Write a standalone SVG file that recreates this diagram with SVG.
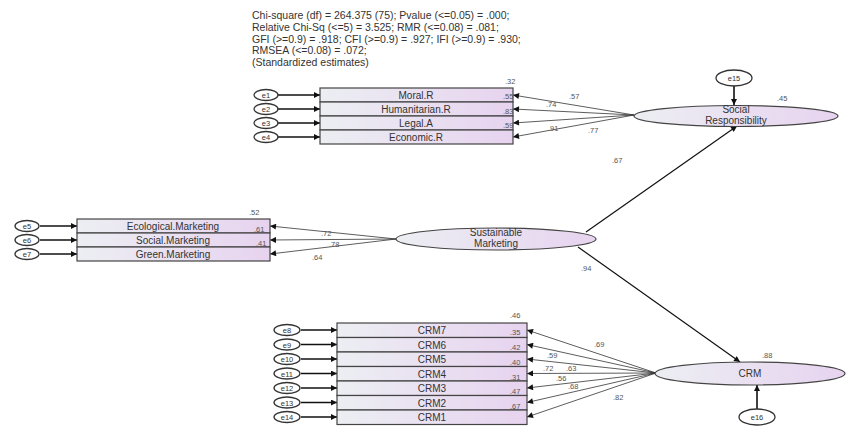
<svg xmlns="http://www.w3.org/2000/svg" width="848" height="428" viewBox="0 0 848 428">
<defs>
<linearGradient id="gb" x1="0" y1="0" x2="1" y2="0">
<stop offset="0" stop-color="#eceef3"/>
<stop offset="1" stop-color="#e7d3ef"/>
</linearGradient>
<marker id="ah" viewBox="0 0 10 10" refX="10" refY="5" markerWidth="9" markerHeight="6" orient="auto" markerUnits="userSpaceOnUse">
<path d="M0,0 L10,5 L0,10 z" fill="#111"/>
</marker>
<style>
.t{font-family:"Liberation Sans",Arial,sans-serif;fill:#333}
.title{font-size:10.5px}
.box{fill:url(#gb);stroke:#444;stroke-width:1.2}
.lat{fill:url(#gb);stroke:#444;stroke-width:1.2}
.err{fill:#fff;stroke:#333;stroke-width:1.3}
.bl{font-size:10px;text-anchor:middle}
.el{font-size:7.5px;text-anchor:middle}
.num{font-size:7.5px;fill:#555}
.ln{stroke:#333;stroke-width:0.8;fill:none}
.ea{stroke:#111;stroke-width:1.6;fill:none}
.pa{stroke:#111;stroke-width:1.2;fill:none}
</style>
</defs>
<rect width="848" height="428" fill="#fff"/>
<g id="title" class="t title">
<text x="252" y="19">Chi-square (df) = 264.375 (75);  Pvalue (&lt;=0.05) = .000;</text>
<text x="252" y="31">Relative Chi-Sq (&lt;=5) = 3.525; RMR (&lt;=0.08) = .081;</text>
<text x="252" y="43">GFI (&gt;=0.9) = .918; CFI (&gt;=0.9) = .927; IFI (&gt;=0.9) = .930;</text>
<text x="252" y="54">RMSEA (&lt;=0.08) = .072;</text>
<text x="252" y="66">(Standardized estimates)</text>
</g>
<g id="connectors">
<!-- top block: error to indicator -->
<line class="ea" x1="278" y1="95" x2="320" y2="95" marker-end="url(#ah)"/>
<line class="ea" x1="278" y1="109" x2="320" y2="109" marker-end="url(#ah)"/>
<line class="ea" x1="278" y1="123" x2="320" y2="123" marker-end="url(#ah)"/>
<line class="ea" x1="278" y1="137" x2="320" y2="137" marker-end="url(#ah)"/>
<!-- top loadings -->
<line class="ln" x1="634" y1="115" x2="513" y2="95" marker-end="url(#ah)"/>
<line class="ln" x1="634" y1="115" x2="513" y2="109" marker-end="url(#ah)"/>
<line class="ln" x1="634" y1="115" x2="513" y2="123" marker-end="url(#ah)"/>
<line class="ln" x1="634" y1="115" x2="513" y2="137" marker-end="url(#ah)"/>
<!-- middle block -->
<line class="ea" x1="40" y1="226" x2="77" y2="226" marker-end="url(#ah)"/>
<line class="ea" x1="40" y1="240" x2="77" y2="240" marker-end="url(#ah)"/>
<line class="ea" x1="40" y1="254" x2="77" y2="254" marker-end="url(#ah)"/>
<line class="ln" x1="396" y1="239" x2="270" y2="226" marker-end="url(#ah)"/>
<line class="ln" x1="396" y1="239" x2="270" y2="240" marker-end="url(#ah)"/>
<line class="ln" x1="396" y1="239" x2="270" y2="254" marker-end="url(#ah)"/>
<!-- CRM block -->
<line class="ea" x1="301" y1="330" x2="337" y2="330" marker-end="url(#ah)"/>
<line class="ea" x1="301" y1="344.5" x2="337" y2="344.5" marker-end="url(#ah)"/>
<line class="ea" x1="301" y1="359" x2="337" y2="359" marker-end="url(#ah)"/>
<line class="ea" x1="301" y1="373.5" x2="337" y2="373.5" marker-end="url(#ah)"/>
<line class="ea" x1="301" y1="388" x2="337" y2="388" marker-end="url(#ah)"/>
<line class="ea" x1="301" y1="402.5" x2="337" y2="402.5" marker-end="url(#ah)"/>
<line class="ea" x1="301" y1="417" x2="337" y2="417" marker-end="url(#ah)"/>
<line class="ln" x1="656" y1="373" x2="527" y2="330" marker-end="url(#ah)"/>
<line class="ln" x1="656" y1="373" x2="527" y2="344.5" marker-end="url(#ah)"/>
<line class="ln" x1="656" y1="373" x2="527" y2="359" marker-end="url(#ah)"/>
<line class="ln" x1="656" y1="373" x2="527" y2="373.5" marker-end="url(#ah)"/>
<line class="ln" x1="656" y1="373" x2="527" y2="388" marker-end="url(#ah)"/>
<line class="ln" x1="656" y1="373" x2="527" y2="402.5" marker-end="url(#ah)"/>
<line class="ln" x1="656" y1="373" x2="527" y2="417" marker-end="url(#ah)"/>
<!-- structural paths -->
<line class="pa" x1="586" y1="232" x2="737" y2="126" marker-end="url(#ah)"/>
<line class="pa" x1="578" y1="247" x2="740" y2="362" marker-end="url(#ah)"/>
<!-- disturbance arrows -->
<line class="ea" x1="734" y1="86" x2="734" y2="105" marker-end="url(#ah)"/>
<line class="ea" x1="757" y1="409" x2="757" y2="385" marker-end="url(#ah)"/>
</g>
<g class="t num" id="estimates">
<text x="569" y="99">.57</text>
<text x="546" y="107">.74</text>
<text x="548" y="131">.91</text>
<text x="588" y="133">.77</text>
<text x="321" y="236">.72</text>
<text x="329" y="247">.78</text>
<text x="312" y="260">.64</text>
<text x="612" y="163">.67</text>
<text x="581" y="271">.94</text>
<text x="594" y="347">.69</text>
<text x="547" y="358">.59</text>
<text x="543" y="371">.72</text>
<text x="566" y="371">.63</text>
<text x="556" y="381">.56</text>
<text x="568" y="389">.68</text>
<text x="613" y="400">.82</text>
</g>
<g id="Moral.R"><rect class="box" x="320" y="88" width="193" height="14"/><text class="t bl" x="416" y="99">Moral.R</text><text class="t num" x="505" y="84">.32</text></g>
<g id="Humanitarian.R"><rect class="box" x="320" y="102" width="193" height="14"/><text class="t bl" x="416" y="113">Humanitarian.R</text><text class="t num" x="503" y="99">.55</text></g>
<g id="Legal.A"><rect class="box" x="320" y="116" width="193" height="14"/><text class="t bl" x="416" y="127">Legal.A</text><text class="t num" x="503" y="114">.83</text></g>
<g id="Economic.R"><rect class="box" x="320" y="130" width="193" height="14"/><text class="t bl" x="416" y="141">Economic.R</text><text class="t num" x="503" y="128">.59</text></g>
<g id="e1"><ellipse class="err" cx="266" cy="95" rx="12" ry="5.5"/><text class="t el" x="266" y="98">e1</text></g>
<g id="e2"><ellipse class="err" cx="266" cy="109" rx="12" ry="5.5"/><text class="t el" x="266" y="112">e2</text></g>
<g id="e3"><ellipse class="err" cx="266" cy="123" rx="12" ry="5.5"/><text class="t el" x="266" y="126">e3</text></g>
<g id="e4"><ellipse class="err" cx="266" cy="137" rx="12" ry="5.5"/><text class="t el" x="266" y="140">e4</text></g>
<g id="SocialResponsibility"><ellipse class="lat" cx="736" cy="116" rx="102" ry="10.5"/><text class="t bl" x="736" y="113" font-size="9.5">Social</text><text class="t bl" x="736" y="124" font-size="9.5">Responsibility</text><text class="t num" x="777" y="101">.45</text></g>
<g id="e15"><ellipse class="err" cx="734" cy="78" rx="18" ry="8"/><text class="t el" x="734" y="81">e15</text></g>
<g id="Ecological.Marketing"><rect class="box" x="77" y="219" width="193" height="14"/><text class="t bl" x="173" y="230">Ecological.Marketing</text><text class="t num" x="249" y="215">.52</text></g>
<g id="Social.Marketing"><rect class="box" x="77" y="233" width="193" height="14"/><text class="t bl" x="173" y="244">Social.Marketing</text><text class="t num" x="254" y="232">.61</text></g>
<g id="Green.Marketing"><rect class="box" x="77" y="247" width="193" height="14"/><text class="t bl" x="173" y="258">Green.Marketing</text><text class="t num" x="256" y="246">.41</text></g>
<g id="e5"><ellipse class="err" cx="27" cy="226" rx="12" ry="5.5"/><text class="t el" x="27" y="229">e5</text></g>
<g id="e6"><ellipse class="err" cx="27" cy="240" rx="12" ry="5.5"/><text class="t el" x="27" y="243">e6</text></g>
<g id="e7"><ellipse class="err" cx="27" cy="254" rx="12" ry="5.5"/><text class="t el" x="27" y="257">e7</text></g>
<g id="SustainableMarketing"><ellipse class="lat" cx="496" cy="239" rx="100" ry="11"/><text class="t bl" x="496" y="236" font-size="9.5">Sustainable</text><text class="t bl" x="496" y="247" font-size="9.5">Marketing</text></g>
<g id="CRM7"><rect class="box" x="337" y="323" width="190" height="14.5"/><text class="t bl" x="432" y="334">CRM7</text><text class="t num" x="510" y="318">.46</text></g>
<g id="CRM6"><rect class="box" x="337" y="337.5" width="190" height="14.5"/><text class="t bl" x="432" y="348.5">CRM6</text><text class="t num" x="510" y="335">.35</text></g>
<g id="CRM5"><rect class="box" x="337" y="352" width="190" height="14.5"/><text class="t bl" x="432" y="363">CRM5</text><text class="t num" x="510" y="350">.42</text></g>
<g id="CRM4"><rect class="box" x="337" y="366.5" width="190" height="14.5"/><text class="t bl" x="432" y="377.5">CRM4</text><text class="t num" x="510" y="365">.40</text></g>
<g id="CRM3"><rect class="box" x="337" y="381" width="190" height="14.5"/><text class="t bl" x="432" y="392">CRM3</text><text class="t num" x="510" y="380">.31</text></g>
<g id="CRM2"><rect class="box" x="337" y="395.5" width="190" height="14.5"/><text class="t bl" x="432" y="406.5">CRM2</text><text class="t num" x="510" y="394">.47</text></g>
<g id="CRM1"><rect class="box" x="337" y="410" width="190" height="14.5"/><text class="t bl" x="432" y="421">CRM1</text><text class="t num" x="510" y="409">.67</text></g>
<g id="e8"><ellipse class="err" cx="287" cy="330" rx="13" ry="5.5"/><text class="t el" x="287" y="333">e8</text></g>
<g id="e9"><ellipse class="err" cx="287" cy="344.5" rx="13" ry="5.5"/><text class="t el" x="287" y="347.5">e9</text></g>
<g id="e10"><ellipse class="err" cx="287" cy="359" rx="13" ry="5.5"/><text class="t el" x="287" y="362">e10</text></g>
<g id="e11"><ellipse class="err" cx="287" cy="373.5" rx="13" ry="5.5"/><text class="t el" x="287" y="376.5">e11</text></g>
<g id="e12"><ellipse class="err" cx="287" cy="388" rx="13" ry="5.5"/><text class="t el" x="287" y="391">e12</text></g>
<g id="e13"><ellipse class="err" cx="287" cy="402.5" rx="13" ry="5.5"/><text class="t el" x="287" y="405.5">e13</text></g>
<g id="e14"><ellipse class="err" cx="287" cy="417" rx="13" ry="5.5"/><text class="t el" x="287" y="420">e14</text></g>
<g id="CRM"><ellipse class="lat" cx="750" cy="373.5" rx="95" ry="11.5"/><text class="t bl" x="750" y="377" font-size="9.5">CRM</text><text class="t num" x="762" y="358">.88</text></g>
<g id="e16"><ellipse class="err" cx="757" cy="417" rx="18" ry="8"/><text class="t el" x="757" y="420">e16</text></g>
</svg>
